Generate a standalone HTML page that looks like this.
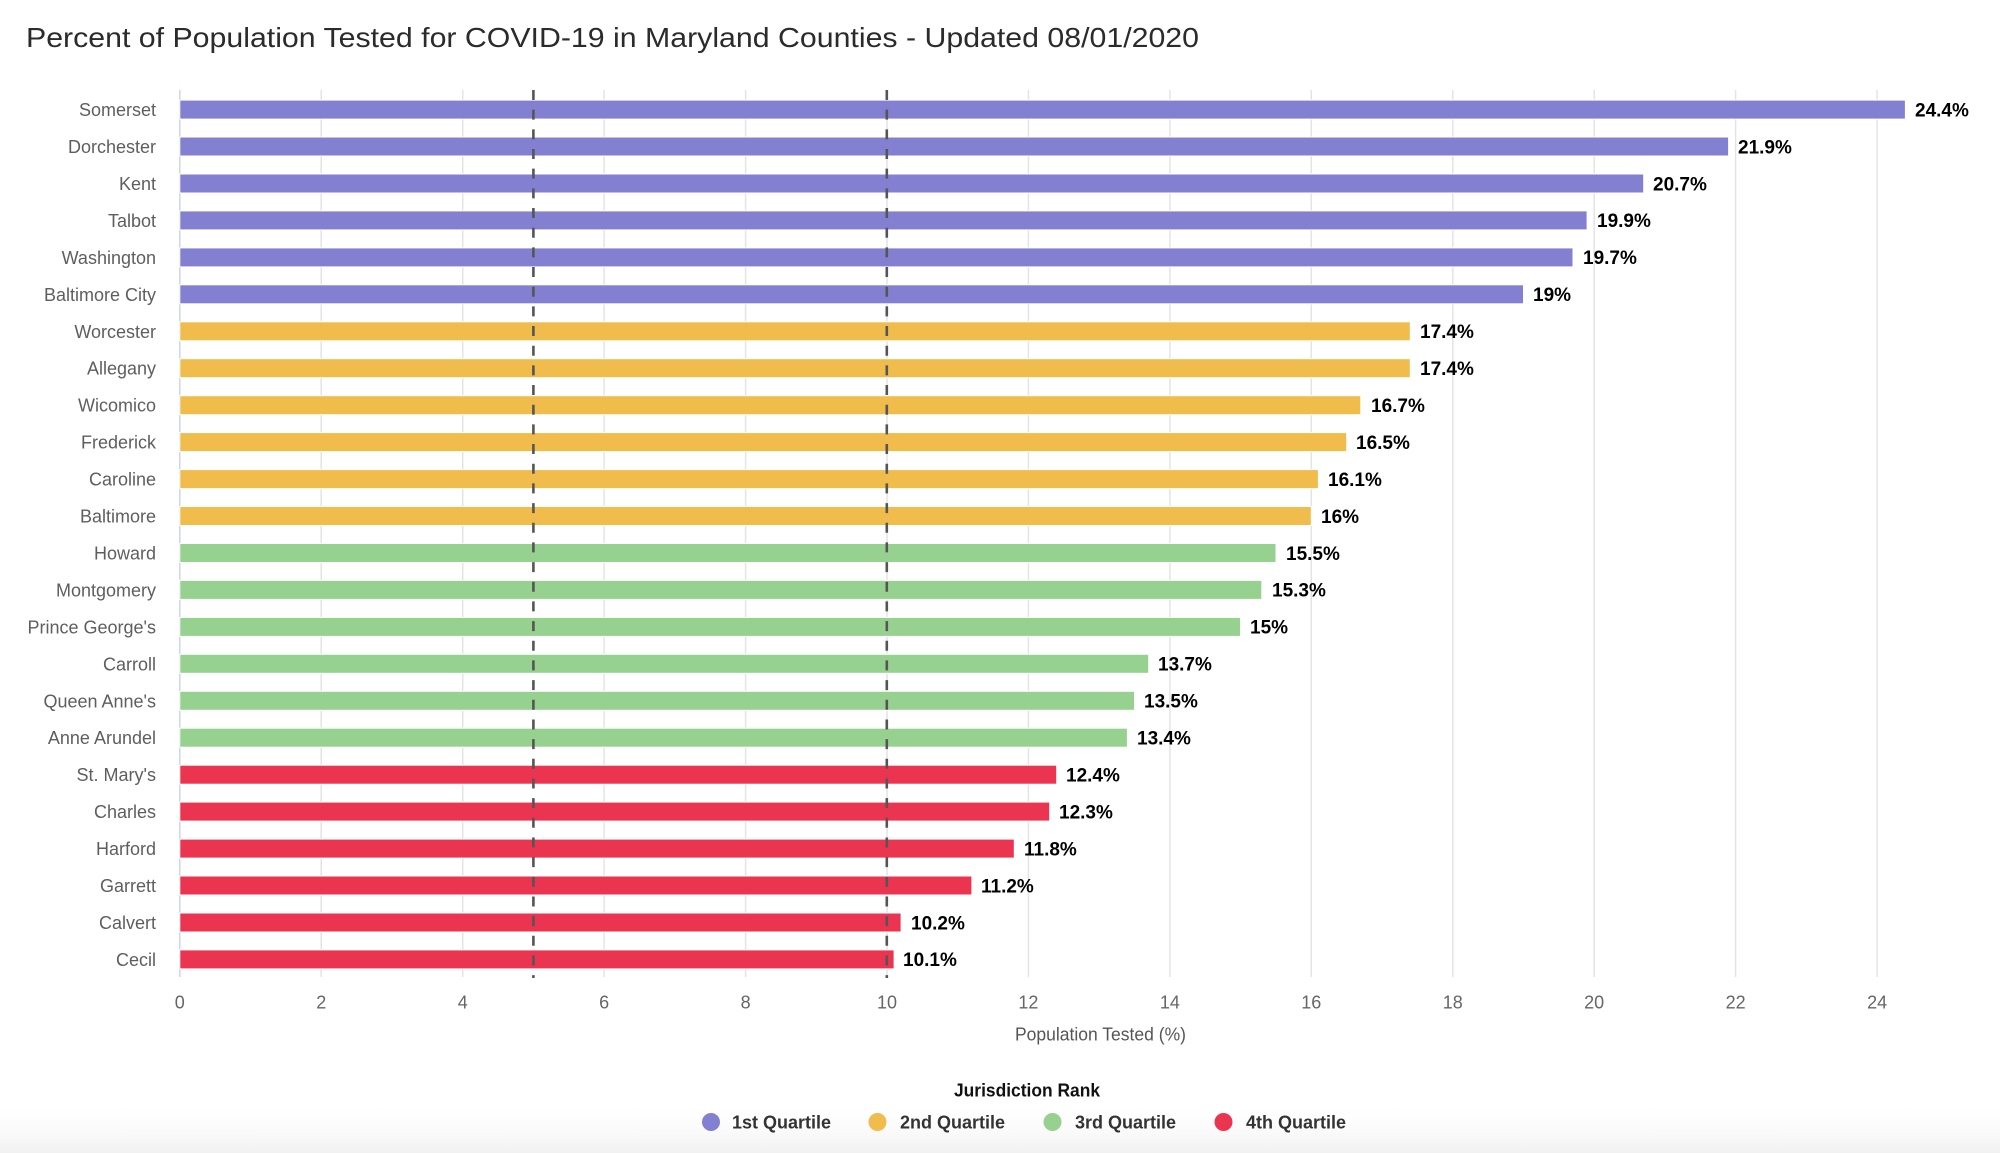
<!DOCTYPE html>
<html>
<head>
<meta charset="utf-8">
<style>
  html, body { margin:0; padding:0; background:#fff; }
  body { width:2000px; height:1153px; overflow:hidden; }
  svg { display:block; }
  text { font-family: "Liberation Sans", "DejaVu Sans", sans-serif; }
</style>
</head>
<body>
<svg width="2000" height="1153" viewBox="0 0 2000 1153" xmlns="http://www.w3.org/2000/svg">
  <defs>
    <linearGradient id="bg" x1="0" y1="0" x2="0" y2="1">
      <stop offset="0" stop-color="#ffffff" stop-opacity="0"/>
      <stop offset="1" stop-color="#f1f1f1" stop-opacity="1"/>
    </linearGradient>
  </defs>
  <rect x="0" y="0" width="2000" height="1153" fill="#fff"/>
  <rect x="0" y="1100" width="2000" height="53" fill="url(#bg)"/>

  <!-- Title -->
  <text x="26" y="47" font-size="28" fill="#2b2b2b" textLength="1173" lengthAdjust="spacingAndGlyphs">Percent of Population Tested for COVID-19 in Maryland Counties - Updated 08/01/2020</text>

  <!-- Gridlines -->
  <g stroke="#e4e4e4" stroke-width="1.5">
    <line x1="321.2" y1="90" x2="321.2" y2="977"/>
    <line x1="462.7" y1="90" x2="462.7" y2="977"/>
    <line x1="604.1" y1="90" x2="604.1" y2="977"/>
    <line x1="745.6" y1="90" x2="745.6" y2="977"/>
    <line x1="887.0" y1="90" x2="887.0" y2="977"/>
    <line x1="1028.4" y1="90" x2="1028.4" y2="977"/>
    <line x1="1169.9" y1="90" x2="1169.9" y2="977"/>
    <line x1="1311.3" y1="90" x2="1311.3" y2="977"/>
    <line x1="1452.8" y1="90" x2="1452.8" y2="977"/>
    <line x1="1594.2" y1="90" x2="1594.2" y2="977"/>
    <line x1="1735.6" y1="90" x2="1735.6" y2="977"/>
    <line x1="1877.1" y1="90" x2="1877.1" y2="977"/>
  </g>
  <line x1="179.8" y1="90" x2="179.8" y2="977" stroke="#ccd6eb" stroke-width="1.5"/>

  <!-- Bars -->
  <g stroke="#ffffff" stroke-width="1">
    <rect x="179.8" y="100.1" width="1725.6" height="19" fill="#8480d1"/>
    <rect x="179.8" y="137.0" width="1548.8" height="19" fill="#8480d1"/>
    <rect x="179.8" y="174.0" width="1463.9" height="19" fill="#8480d1"/>
    <rect x="179.8" y="210.9" width="1407.3" height="19" fill="#8480d1"/>
    <rect x="179.8" y="247.9" width="1393.2" height="19" fill="#8480d1"/>
    <rect x="179.8" y="284.8" width="1343.7" height="19" fill="#8480d1"/>

    <rect x="179.8" y="321.8" width="1230.5" height="19" fill="#f0bc4c"/>
    <rect x="179.8" y="358.7" width="1230.5" height="19" fill="#f0bc4c"/>
    <rect x="179.8" y="395.7" width="1181.0" height="19" fill="#f0bc4c"/>
    <rect x="179.8" y="432.6" width="1166.9" height="19" fill="#f0bc4c"/>
    <rect x="179.8" y="469.6" width="1138.6" height="19" fill="#f0bc4c"/>
    <rect x="179.8" y="506.5" width="1131.5" height="19" fill="#f0bc4c"/>

    <rect x="179.8" y="543.5" width="1096.2" height="19" fill="#97d18f"/>
    <rect x="179.8" y="580.4" width="1082.0" height="19" fill="#97d18f"/>
    <rect x="179.8" y="617.4" width="1060.8" height="19" fill="#97d18f"/>
    <rect x="179.8" y="654.3" width="968.9" height="19" fill="#97d18f"/>
    <rect x="179.8" y="691.3" width="954.7" height="19" fill="#97d18f"/>
    <rect x="179.8" y="728.2" width="947.6" height="19" fill="#97d18f"/>

    <rect x="179.8" y="765.2" width="876.9" height="19" fill="#eb3450"/>
    <rect x="179.8" y="802.1" width="869.9" height="19" fill="#eb3450"/>
    <rect x="179.8" y="839.1" width="834.5" height="19" fill="#eb3450"/>
    <rect x="179.8" y="876.0" width="792.1" height="19" fill="#eb3450"/>
    <rect x="179.8" y="913.0" width="721.3" height="19" fill="#eb3450"/>
    <rect x="179.8" y="949.9" width="714.3" height="19" fill="#eb3450"/>
  </g>

  <!-- Dashed plot lines -->
  <g stroke="#555" stroke-width="2.6" stroke-dasharray="10 9.67">
    <line x1="533.4" y1="90" x2="533.4" y2="978"/>
    <line x1="886.8" y1="90" x2="886.8" y2="978"/>
  </g>

  <!-- Category labels -->
  <g font-size="18" fill="#5e5e5e" text-anchor="end">
    <text x="156" y="116.1">Somerset</text>
    <text x="156" y="153.0">Dorchester</text>
    <text x="156" y="190.0">Kent</text>
    <text x="156" y="226.9">Talbot</text>
    <text x="156" y="263.9">Washington</text>
    <text x="156" y="300.8">Baltimore City</text>
    <text x="156" y="337.8">Worcester</text>
    <text x="156" y="374.7">Allegany</text>
    <text x="156" y="411.7">Wicomico</text>
    <text x="156" y="448.6">Frederick</text>
    <text x="156" y="485.6">Caroline</text>
    <text x="156" y="522.5">Baltimore</text>
    <text x="156" y="559.5">Howard</text>
    <text x="156" y="596.4">Montgomery</text>
    <text x="156" y="633.4">Prince George's</text>
    <text x="156" y="670.3">Carroll</text>
    <text x="156" y="707.3">Queen Anne's</text>
    <text x="156" y="744.2">Anne Arundel</text>
    <text x="156" y="781.2">St. Mary's</text>
    <text x="156" y="818.1">Charles</text>
    <text x="156" y="855.1">Harford</text>
    <text x="156" y="892.0">Garrett</text>
    <text x="156" y="929.0">Calvert</text>
    <text x="156" y="965.9">Cecil</text>
  </g>

  <!-- Value labels -->
  <g font-size="19" font-weight="bold" fill="#000">
    <text x="1915" y="116.4">24.4%</text>
    <text x="1738" y="153.3">21.9%</text>
    <text x="1653" y="190.3">20.7%</text>
    <text x="1597" y="227.2">19.9%</text>
    <text x="1583" y="264.2">19.7%</text>
    <text x="1533" y="301.1">19%</text>
    <text x="1420" y="338.1">17.4%</text>
    <text x="1420" y="375.0">17.4%</text>
    <text x="1371" y="412.0">16.7%</text>
    <text x="1356" y="448.9">16.5%</text>
    <text x="1328" y="485.9">16.1%</text>
    <text x="1321" y="522.8">16%</text>
    <text x="1286" y="559.8">15.5%</text>
    <text x="1272" y="596.7">15.3%</text>
    <text x="1250" y="633.7">15%</text>
    <text x="1158" y="670.6">13.7%</text>
    <text x="1144" y="707.6">13.5%</text>
    <text x="1137" y="744.5">13.4%</text>
    <text x="1066" y="781.5">12.4%</text>
    <text x="1059" y="818.4">12.3%</text>
    <text x="1024" y="855.4">11.8%</text>
    <text x="981" y="892.3">11.2%</text>
    <text x="911" y="929.3">10.2%</text>
    <text x="903" y="966.2">10.1%</text>
  </g>

  <!-- X tick labels -->
  <g font-size="18" fill="#666" text-anchor="middle">
    <text x="179.8" y="1008.5">0</text>
    <text x="321.2" y="1008.5">2</text>
    <text x="462.7" y="1008.5">4</text>
    <text x="604.1" y="1008.5">6</text>
    <text x="745.6" y="1008.5">8</text>
    <text x="887.0" y="1008.5">10</text>
    <text x="1028.4" y="1008.5">12</text>
    <text x="1169.9" y="1008.5">14</text>
    <text x="1311.3" y="1008.5">16</text>
    <text x="1452.8" y="1008.5">18</text>
    <text x="1594.2" y="1008.5">20</text>
    <text x="1735.6" y="1008.5">22</text>
    <text x="1877.1" y="1008.5">24</text>
    <text x="2012" y="1008.5">26</text>
  </g>

  <!-- Axis title -->
  <text x="1015" y="1040.5" font-size="18" fill="#555" textLength="171" lengthAdjust="spacingAndGlyphs">Population Tested (%)</text>

  <!-- Legend -->
  <text x="1027" y="1096.5" font-size="18" font-weight="bold" fill="#111" text-anchor="middle" textLength="146" lengthAdjust="spacingAndGlyphs">Jurisdiction Rank</text>
  <circle cx="711" cy="1122" r="9" fill="#8480d1"/>
  <text x="732" y="1128.5" font-size="18" font-weight="bold" fill="#333">1st Quartile</text>
  <circle cx="877.5" cy="1122" r="9" fill="#f0bc4c"/>
  <text x="900" y="1128.5" font-size="18" font-weight="bold" fill="#333">2nd Quartile</text>
  <circle cx="1052.5" cy="1122" r="9" fill="#97d18f"/>
  <text x="1075" y="1128.5" font-size="18" font-weight="bold" fill="#333">3rd Quartile</text>
  <circle cx="1223.5" cy="1122" r="9" fill="#eb3450"/>
  <text x="1246" y="1128.5" font-size="18" font-weight="bold" fill="#333">4th Quartile</text>
</svg>
</body>
</html>
